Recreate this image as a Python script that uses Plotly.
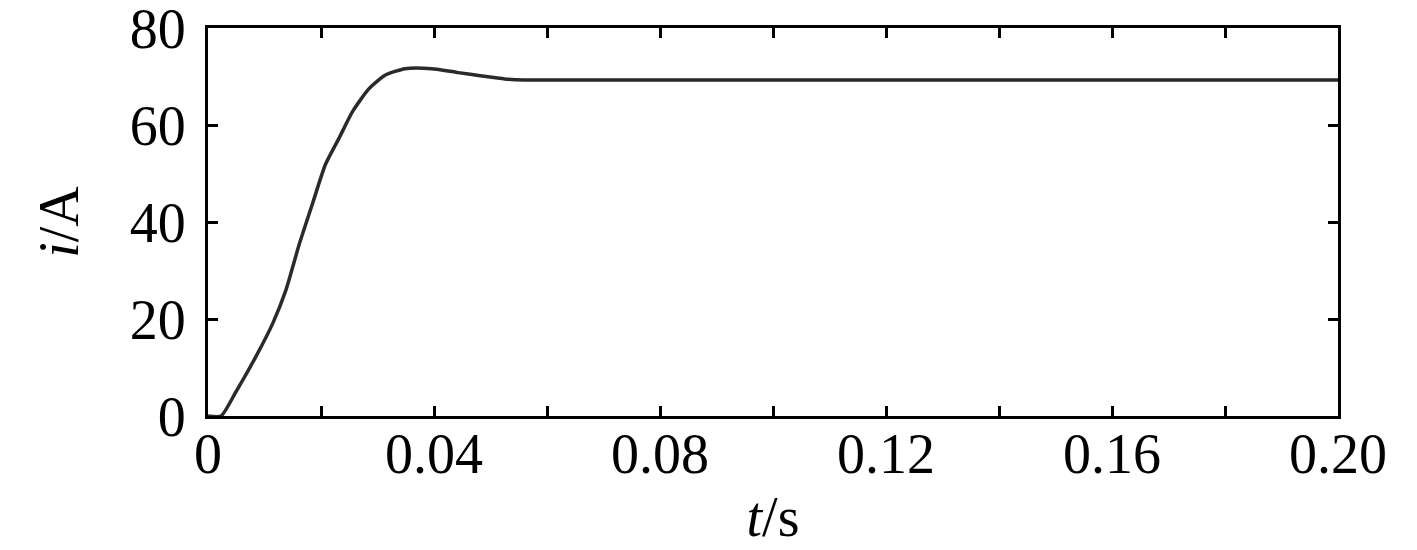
import plotly.graph_objects as go

t_vals = [0.0, 0.0023, 0.0049, 0.0085, 0.0115, 0.0138, 0.0162, 0.0185, 0.0208, 0.0232,
          0.0256, 0.0285, 0.0314, 0.0349, 0.0396, 0.0443, 0.0485, 0.0525, 0.056, 0.08,
          0.12, 0.16, 0.20]
i_vals = [0.0, 0.0, 4.9, 12.3, 19.2, 26.0, 35.6, 43.8, 51.9, 57.3,
          62.8, 67.5, 70.3, 71.6, 71.6, 70.8, 70.1, 69.5, 69.3, 69.3,
          69.3, 69.3, 69.3]

x_ticks = [0.0, 0.02, 0.04, 0.06, 0.08, 0.10, 0.12, 0.14, 0.16, 0.18, 0.20]
x_labels = ["0", "", "0.04", "", "0.08", "", "0.12", "", "0.16", "", "0.20"]
y_ticks = [0, 20, 40, 60, 80]
y_labels = ["0", "20", "40", "60", "80"]

font_family = "Liberation Serif, Times New Roman, serif"
fs = 56

fig = go.Figure()
fig.add_trace(go.Scatter(x=t_vals, y=i_vals, mode="lines",
                         line=dict(color="#2a2a2a", width=3.5, shape="spline", smoothing=0.6),
                         showlegend=False))

fig.update_layout(
    width=1409, height=542,
    margin=dict(l=200, r=79, t=20, b=134),
    paper_bgcolor="white", plot_bgcolor="white",
    font=dict(family=font_family, size=fs, color="black"),
)
fig.update_xaxes(
    range=[0, 0.20], tickvals=x_ticks, ticktext=x_labels,
    ticks="inside", ticklen=10, tickwidth=3, tickcolor="black",
    showline=True, linecolor="black", linewidth=3, mirror="ticks",
    showgrid=False, zeroline=False, automargin=False,
    ticklabeloverflow="allow", ticklabelstandoff=-13,
    tickfont=dict(size=fs, family=font_family),
    title=dict(text="<i>t</i>/s", font=dict(size=fs, family=font_family), standoff=13),
)
fig.update_yaxes(
    range=[0, 80], tickvals=y_ticks, ticktext=y_labels,
    ticks="inside", ticklen=10, tickwidth=3, tickcolor="black",
    showline=True, linecolor="black", linewidth=3, mirror="ticks",
    showgrid=False, zeroline=False, automargin=False,
    ticklabeloverflow="allow", ticklabelstandoff=8,
    tickfont=dict(size=fs, family=font_family),
    title=dict(text="<i>i</i>/A", font=dict(size=fs, family=font_family), standoff=34),
)

fig.write_html("out.html")
